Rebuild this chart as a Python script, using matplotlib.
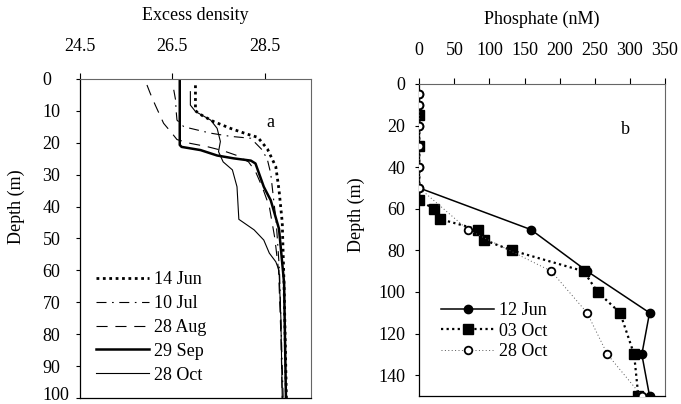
import matplotlib
matplotlib.use('Agg')
import matplotlib.pyplot as plt
from matplotlib.transforms import ScaledTranslation

plt.rcParams['font.family'] = ['Liberation Serif', 'DejaVu Serif']
plt.rcParams['font.size'] = 13

# ---- panel a : excess density profiles ----
jun14_depth = [2, 10, 11.5, 13.4, 15.5, 17.3, 18.3, 22, 27.5, 34.8, 45, 65, 100]
jun14_sigma = [27.0, 27.0, 27.15, 27.4, 27.76, 28.12, 28.35, 28.56, 28.74, 28.81, 28.88, 28.92, 28.97]

jul10_depth = [3.4, 6.6, 9.7, 12.9, 15, 16, 17, 18, 18.6, 22.3, 25.4, 29.6, 34.8, 45, 60, 80, 100]
jul10_sigma = [26.53, 26.57, 26.58, 26.6, 26.75, 27.04, 27.33, 27.76, 28.2, 28.45, 28.56, 28.63, 28.67, 28.75, 28.82, 28.86, 28.9]

aug28_depth = [1.9, 4.5, 8.2, 13.9, 17, 19, 20.2, 21.2, 22.5, 24, 26, 29, 34, 40, 50, 60, 80, 100]
aug28_sigma = [25.95, 26.02, 26.13, 26.31, 26.49, 26.6, 26.89, 27.25, 27.6, 27.9, 28.15, 28.3, 28.45, 28.6, 28.72, 28.8, 28.85, 28.88]

sep29_depth = [0, 20.7, 21.3, 22.3, 24, 24.9, 25.6, 26.5, 33.8, 36.9, 38, 47, 64, 100]
sep29_sigma = [26.66, 26.66, 26.7, 27.11, 27.47, 27.83, 28.2, 28.3, 28.48, 28.59, 28.63, 28.81, 28.92, 28.96]

oct28_depth = [4, 8.2, 10.2, 12.9, 15.5, 19.6, 22.8, 26, 28.5, 33.8, 44, 47.3, 50.5, 54.6, 57.3, 60, 75, 100]
oct28_sigma = [26.89, 26.89, 27.0, 27.33, 27.47, 27.54, 27.5, 27.6, 27.8, 27.9, 27.94, 28.27, 28.48, 28.6, 28.74, 28.81, 28.85, 28.88]

sigma_ticks = [24.5, 26.5, 28.5]
depth_ticks_a = list(range(0, 101, 10))

# ---- panel b : phosphate profiles ----
jun12_depth = [5, 10, 20, 30, 40, 50, 70, 90, 110, 130, 150]
jun12_po4 = [0, 0, 0, 0, 0, 0, 159, 239, 328, 317, 328]

oct03_depth = [15, 30, 56, 60, 65, 70, 75, 80, 90, 100, 110, 130, 150]
oct03_po4 = [0, 0, 0, 21, 30, 84, 92, 132, 234, 254, 286, 306, 312]

oct28b_depth = [5, 10, 20, 30, 40, 50, 70, 90, 110, 130, 150]
oct28b_po4 = [0, 0, 0, 0, 0, 0, 69, 188, 239, 268, 317]

po4_ticks = list(range(0, 351, 50))
depth_ticks_b = list(range(0, 141, 20))

fig = plt.figure(figsize=(6.81, 4.04), dpi=100)
ax1 = fig.add_axes([0.1175, 0.0149, 0.339, 0.7897])
ax2 = fig.add_axes([0.6157, 0.0198, 0.3608, 0.7723])

# panel a
ax1.plot(jun14_sigma, jun14_depth, color='black', lw=2.0, ls=(0, (1, 1.3)), label='14 Jun')
ax1.plot(jul10_sigma, jul10_depth, color='black', lw=0.8, ls=(0, (9, 5, 1.5, 5)), label='10 Jul')
ax1.plot(aug28_sigma, aug28_depth, color='black', lw=0.8, ls=(0, (10, 7)), label='28 Aug')
ax1.plot(sep29_sigma, sep29_depth, color='black', lw=1.8, label='29 Sep')
ax1.plot(oct28_sigma, oct28_depth, color='black', lw=0.8, label='28 Oct')

ax1.set_xlim(24.5, 29.5)
ax1.set_ylim(100, 0)
ax1.set_xticks(sigma_ticks)
ax1.set_yticks(depth_ticks_a)
ax1.xaxis.tick_top()
ax1.xaxis.set_label_position('top')
ax1.set_xlabel('Excess density', labelpad=13)
ax1.set_ylabel('Depth (m)')
ax1.yaxis.set_label_coords(-0.238, 0.6)
ax1.tick_params(axis='x', direction='out', length=4, pad=13)
ax1.tick_params(axis='y', direction='out', length=3, pad=24)
for lab in ax1.get_yticklabels():
    lab.set_horizontalalignment('left')
# keep the bottom label inside the canvas
last = ax1.get_yticklabels()[-1]
last.set_transform(last.get_transform() + ScaledTranslation(0, 3 / 72, fig.dpi_scale_trans))
ax1.text(28.63, 13.5, 'a', ha='center', va='center')
ax1.legend(loc='lower left', bbox_to_anchor=(0.07, 0.045), frameon=False,
           borderpad=0, borderaxespad=0, handlelength=2.9, handletextpad=0.3,
           labelspacing=0.38)

# panel b
ax2.plot(jun12_po4, jun12_depth, color='black', lw=1.1, marker='o', ms=6,
         mfc='black', mec='black', label='12 Jun', zorder=2)
ax2.plot(oct03_po4, oct03_depth, color='black', lw=1.6, ls=(0, (1, 1.5)), marker='s',
         ms=6.5, mfc='black', mec='black', label='03 Oct', zorder=3)
ax2.plot(oct28b_po4, oct28b_depth, color='#555555', lw=0.7, ls=(0, (1, 2.5)), marker='o',
         ms=5.5, mfc='white', mec='black', mew=1.3, label='28 Oct', zorder=4)

ax2.set_xlim(0, 350)
ax2.set_ylim(150, 0)
ax2.set_xticks(po4_ticks)
ax2.set_yticks(depth_ticks_b)
ax2.xaxis.tick_top()
ax2.xaxis.set_label_position('top')
ax2.set_xlabel('Phosphate (nM)', labelpad=13)
ax2.set_ylabel('Depth (m)')
ax2.yaxis.set_label_coords(-0.221, 0.58)
ax2.tick_params(axis='x', direction='out', length=4, pad=14)
ax2.tick_params(axis='y', direction='out', length=3, pad=7)
ax2.text(294, 22, 'b', ha='center', va='center')
ax2.legend(loc='lower left', bbox_to_anchor=(0.09, 0.115), frameon=False,
           borderpad=0, borderaxespad=0, handlelength=2.9, handletextpad=0.3,
           labelspacing=0.2, numpoints=1)

for ax in (ax1, ax2):
    for side in ('top', 'right'):
        ax.spines[side].set_color('#666666')
        ax.spines[side].set_linewidth(0.8)
    for side in ('left', 'bottom'):
        ax.spines[side].set_color('black')
        ax.spines[side].set_linewidth(0.9)

fig.savefig('out.png', dpi=100)
